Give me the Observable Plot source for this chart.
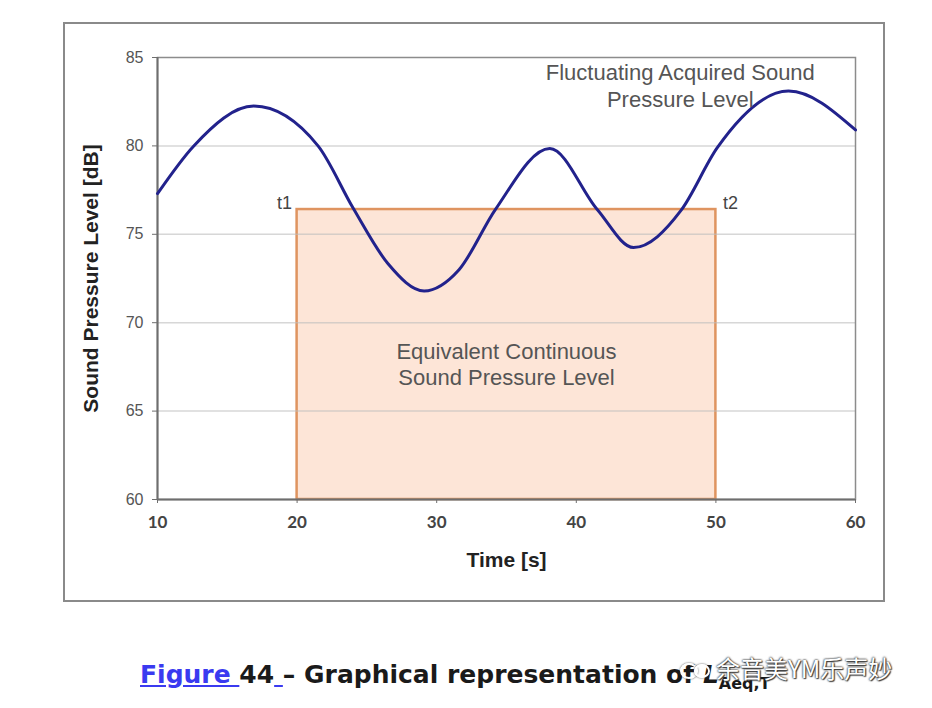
<!DOCTYPE html>
<html>
<head>
<meta charset="utf-8">
<script src="https://cdn.jsdelivr.net/npm/d3@7"></script>
<script src="https://cdn.jsdelivr.net/npm/@observablehq/plot@0.6"></script>
<style>
  html, body { margin: 0; padding: 0; background: #fff; }
  #wrap { position: relative; width: 932px; height: 708px; overflow: hidden; }
  #border { position: absolute; left: 63px; top: 22px; width: 818px; height: 576px; border: 2px solid #8a8a8a; }
  #chart { position: absolute; left: 0; top: 0; }
  #caption { position: absolute; left: 140px; top: 660px; font-family: "DejaVu Sans", sans-serif; font-weight: bold; font-size: 25px; color: #1a1a1a; white-space: nowrap; }
  #caption .link { color: #3a3af0; text-decoration: underline; }
  #caption sub { font-size: 16px; }
  #wm { position: absolute; left: 680px; top: 650px; font-family: "Noto Sans CJK SC", sans-serif; font-size: 24px; color: #fff; white-space: nowrap;
        text-shadow: 0 0 2px #333, 0 0 2px #333, 1px 1px 1px #444; }
  #wm .ic { display: inline-block; width: 14px; height: 12px; border: 2px solid #fff; border-radius: 50%; box-shadow: 0 0 2px #333; vertical-align: middle; margin-right: -4px; }
  #wm .ic2 { width: 12px; height: 10px; margin-right: 6px; }
</style>
</head>
<body>
<div id="wrap">
  <div id="border"></div>
  <div id="chart"></div>
  <div id="caption"><span class="link">Figure </span>44<span class="link"> </span>– Graphical representation of <i>L</i><sub>Aeq,T</sub></div>
  <div id="wm"><span class="ic"></span><span class="ic ic2"></span>余音美YM乐声妙</div>
</div>
<script>
// Fluctuating acquired sound pressure level (key points)
const times  = [10, 12.6, 16.9, 21.5, 24.0, 26.5, 29.1, 31.6, 34.2, 38.1, 41.5, 44.1, 47.5, 50.1, 55.2, 60];
const levels = [77.3, 80.0, 82.25, 80.0, 76.5, 73.35, 71.8, 73.0, 76.4, 79.85, 76.4, 74.25, 76.35, 79.9, 83.1, 80.9];

// Equivalent continuous level between t1 and t2
const t1 = 20, t2 = 50, leq = 76.4;

const xTicks = [10, 20, 30, 40, 50, 60];
const yTicks = [60, 65, 70, 75, 80, 85];
const gridLevels = [65, 70, 75, 80];

const curve = times.map((t, i) => ({t, v: levels[i]}));
const sans = "Liberation Sans, Arial, sans-serif";

const chart = Plot.plot({
  width: 932,
  height: 610,
  marginLeft: 157,
  marginRight: 77,
  marginTop: 57,
  marginBottom: 111,
  style: {background: "transparent", overflow: "visible"},
  x: {domain: [10, 60]},
  y: {domain: [60, 85]},
  marks: [
    Plot.rectY([{x1: t1, x2: t2, y: leq}], {x1: "x1", x2: "x2", y1: 60, y2: "y", fill: "#fde5d7", stroke: "#df9460", strokeWidth: 2.5}),
    Plot.ruleY(gridLevels, {stroke: "#bcbcbc", strokeOpacity: 0.6, strokeWidth: 1.5}),
    Plot.frame({stroke: "#8c8c8c", strokeWidth: 1.5}),
    Plot.ruleX([10], {stroke: "#6e6e6e", strokeWidth: 2}),
    Plot.ruleY([60], {stroke: "#6e6e6e", strokeWidth: 2}),
    Plot.line(curve, {x: "t", y: "v", stroke: "#22228c", strokeWidth: 3, curve: "monotone-x"}),
    Plot.axisY(yTicks, {tickSize: 5, tickPadding: 9, fontSize: 16, fontFamily: sans, fill: "#555", stroke: "#6e6e6e", label: null}),
    Plot.axisX(xTicks, {tickSize: 4, tickPadding: 12, fontSize: 17, fontWeight: "bold", fontFamily: "Lato, sans-serif", fill: "#444", stroke: "#6e6e6e", label: null}),
    Plot.text(["Time [s]"], {frameAnchor: "bottom", dy: 67, fontSize: 21, fontWeight: "bold", fontFamily: sans, fill: "#222"}),
    Plot.text(["Sound Pressure Level [dB]"], {frameAnchor: "left", textAnchor: "middle", dx: -66, rotate: -90, fontSize: 21, fontWeight: "bold", fontFamily: sans, fill: "#222"}),
    Plot.text(["t1"], {x: t1, y: leq, dx: -5, dy: -1, textAnchor: "end", lineAnchor: "bottom", fontSize: 18, fontFamily: sans, fill: "#444"}),
    Plot.text(["t2"], {x: t2, y: leq, dx: 7, dy: -1, textAnchor: "start", lineAnchor: "bottom", fontSize: 18, fontFamily: sans, fill: "#444"}),
    Plot.text(["Fluctuating Acquired Sound\nPressure Level"], {x: 47.45, y: 83.45, lineHeight: 1.23, fontSize: 22, fontFamily: sans, fill: "#555"}),
    Plot.text(["Equivalent Continuous\nSound Pressure Level"], {x: 35, y: 67.7, lineHeight: 1.18, fontSize: 22, fontFamily: sans, fill: "#555"})
  ]
});
document.getElementById("chart").appendChild(chart);
</script>
</body>
</html>
